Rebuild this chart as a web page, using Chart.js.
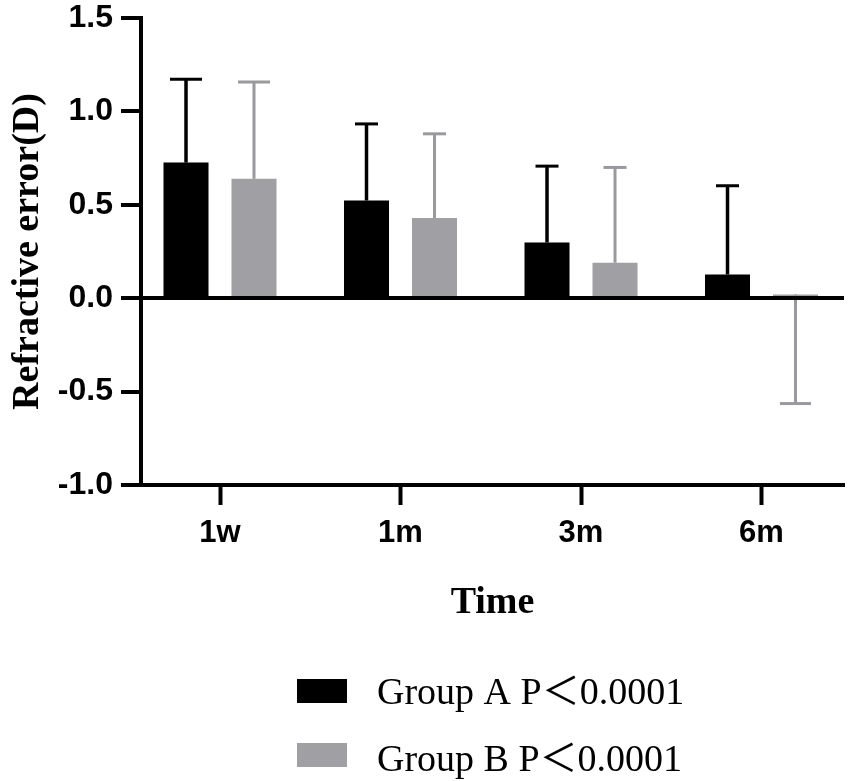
<!DOCTYPE html>
<html><head><meta charset="utf-8">
<script src="https://cdn.jsdelivr.net/npm/chart.js@4.4.1/dist/chart.umd.min.js"></script>
<style>html,body{margin:0;padding:0;background:#fff}#wrap{width:851px;height:781px;position:relative}</style>
</head><body><div id="wrap"><canvas id="c"></canvas></div>
<script>
// ---- data ----
const categories = ['1w', '1m', '3m', '6m'];
const seriesLabels = ['Group A P\uFF1C0.0001', 'Group B P\uFF1C0.0001'];
const groupA = [0.726, 0.523, 0.298, 0.127];
const groupB = [0.639, 0.429, 0.190, 0.020];
const groupAErrEnd = [1.172, 0.933, 0.707, 0.602];
const groupBErrEnd = [1.158, 0.880, 0.700, -0.564];
const yTickValues = [-1.0, -0.5, 0.0, 0.5, 1.0, 1.5];
const xTitle = 'Time';
const yTitle = 'Refractive error(D)';

// ---- styles ----
const BLACK = '#000000';
const GRAY = '#a0a0a4';
const SERIF = "'Liberation Serif', 'Times New Roman', 'Noto Sans CJK SC', serif";
const SANS = "'Liberation Sans', Arial, sans-serif";
const capWidths = [32, 23, 23, 23];

const errorBarPlugin = {
  id: 'errorBars',
  afterDatasetsDraw(chart) {
    const ctx = chart.ctx;
    const yScale = chart.scales.y;
    chart.data.datasets.forEach((ds, di) => {
      const meta = chart.getDatasetMeta(di);
      meta.data.forEach((bar, i) => {
        const yEnd = yScale.getPixelForValue(ds.errEnd[i]);
        const w = (i === 3 && di === 1) ? 31 : capWidths[i];
        ctx.save();
        ctx.strokeStyle = ds.errColor;
        ctx.lineWidth = ds.errWidth;
        ctx.beginPath();
        ctx.moveTo(bar.x, bar.y);
        ctx.lineTo(bar.x, yEnd);
        ctx.stroke();
        ctx.lineWidth = 3;
        ctx.beginPath();
        ctx.moveTo(bar.x - w / 2, yEnd);
        ctx.lineTo(bar.x + w / 2, yEnd);
        ctx.stroke();
        ctx.restore();
      });
    });
  }
};

const legendPlugin = {
  id: 'blockLegend',
  afterDraw(chart) {
    const ctx = chart.ctx;
    const boxTops = [679, 743];
    const baselines = [704, 771];
    chart.data.datasets.forEach((ds, i) => {
      ctx.save();
      ctx.fillStyle = ds.backgroundColor;
      ctx.fillRect(297, boxTops[i], 50, 24);
      ctx.fillStyle = BLACK;
      ctx.font = '38px ' + SERIF;
      ctx.textAlign = 'left';
      ctx.textBaseline = 'alphabetic';
      ctx.fillText(ds.label, 377, baselines[i]);
      ctx.restore();
    });
  }
};

const xMin = -0.4377, xMax = 3.457;

new Chart(document.getElementById('c'), {
  type: 'bar',
  data: {
    datasets: [
      {
        label: seriesLabels[0],
        data: groupA.map((v, i) => ({ x: i, y: v })),
        backgroundColor: BLACK,
        errEnd: groupAErrEnd, errColor: BLACK, errWidth: 3.5,
        categoryPercentage: 0.7535, barPercentage: 0.662
      },
      {
        label: seriesLabels[1],
        data: groupB.map((v, i) => ({ x: i, y: v })),
        backgroundColor: GRAY,
        errEnd: groupBErrEnd, errColor: '#9a9a9e', errWidth: 3,
        categoryPercentage: 0.7535, barPercentage: 0.662
      }
    ]
  },
  options: {
    responsive: true,
    maintainAspectRatio: false,
    animation: false,
    layout: { padding: { top: 18, right: 7, bottom: 155, left: 0 } },
    plugins: { legend: { display: false }, tooltip: { enabled: false } },
    scales: {
      x: {
        type: 'linear',
        offset: false,
        min: xMin, max: xMax,
        afterBuildTicks: s => { s.ticks = categories.map((_, i) => ({ value: i })); },
        afterFit: s => { s.height = 141; },
        ticks: {
          callback: v => categories[v],
          color: BLACK,
          font: { family: SANS, size: 31, weight: 'bold' },
          padding: 10,
          maxRotation: 0
        },
        grid: { offset: false, drawOnChartArea: false, tickLength: 20, tickWidth: 4, tickColor: BLACK },
        border: { display: true, width: 4, color: BLACK, z: 2 },
        title: {
          display: true, text: xTitle, color: BLACK,
          font: { family: SERIF, size: 38, weight: 'bold' },
          padding: 0
        }
      },
      y: {
        min: -1, max: 1.5,
        afterBuildTicks: s => { s.ticks = yTickValues.map(v => ({ value: v })); },
        afterFit: s => { s.width = 141; s.paddingTop = 0; s.paddingBottom = 0; },
        ticks: {
          callback: v => Number(v).toFixed(1),
          color: BLACK,
          font: { family: SANS, size: 32, weight: 'bold' },
          padding: 8
        },
        grid: {
          z: 1,
          color: c => (c.tick && c.tick.value === 0) ? BLACK : 'rgba(0,0,0,0)',
          lineWidth: 4,
          tickLength: 20, tickWidth: 4, tickColor: BLACK
        },
        border: { display: true, width: 4, color: BLACK, z: 2 },
        title: {
          display: true, text: yTitle, color: BLACK,
          font: { family: SERIF, size: 38, weight: 'bold' },
          padding: { top: 5, bottom: 0 }
        }
      }
    }
  },
  plugins: [errorBarPlugin, legendPlugin]
});
</script>
</body></html>
